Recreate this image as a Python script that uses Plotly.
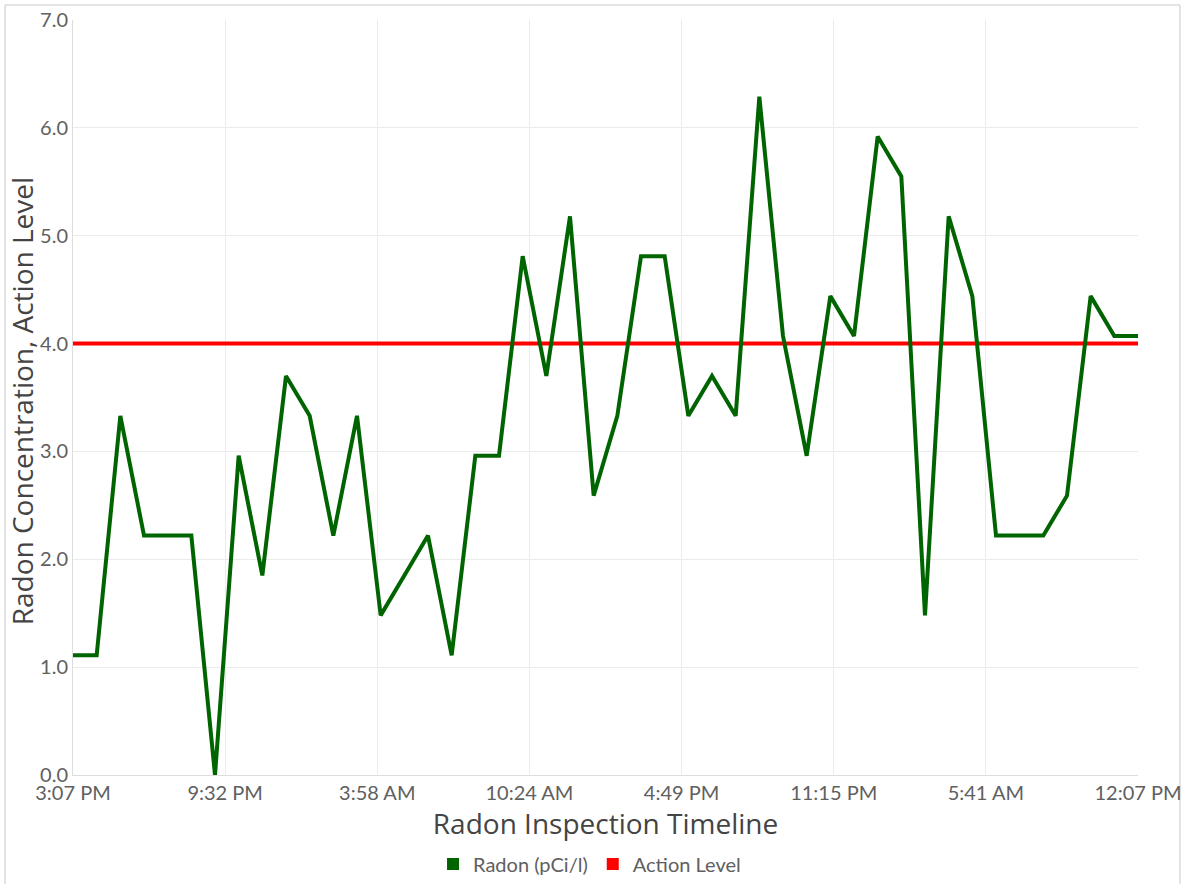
import plotly.graph_objects as go
import pandas as pd

# ---- data ----
start_time = "2023-01-01 15:07"
radon_pci_l = [1.11, 1.11, 3.33, 2.22, 2.22, 2.22, 0.00, 2.96, 1.85, 3.70,
               3.33, 2.22, 3.33, 1.48, 1.85, 2.22, 1.11, 2.96, 2.96, 4.81,
               3.70, 5.18, 2.59, 3.33, 4.81, 4.81, 3.33, 3.70, 3.33, 6.29,
               4.07, 2.96, 4.44, 4.07, 5.92, 5.55, 1.48, 5.18, 4.44, 2.22,
               2.22, 2.22, 2.59, 4.44, 4.07, 4.07]
action_level = 4.0
tick_labels = ["3:07 PM", "9:32 PM", "3:58 AM", "10:24 AM", "4:49 PM",
               "11:15 PM", "5:41 AM", "12:07 PM"]
y_ticks = [0, 1, 2, 3, 4, 5, 6, 7]
x_title = "Radon Inspection Timeline"
y_title = "Radon Concentration, Action Level"

times = pd.date_range(start_time, periods=len(radon_pci_l), freq="h")
t0, t1 = times[0], times[-1]
n = len(tick_labels) - 1
tick_vals = [t0 + (t1 - t0) * k / n for k in range(n + 1)]

FONT = "Lato"
TITLE_FONT = "Open Sans"
GREEN = "#006400"
RED = "#ff0000"
TICK_COLOR = "#606060"

fig = go.Figure()
fig.add_trace(go.Scatter(x=times, y=[action_level] * len(times), mode="lines",
                         line=dict(color=RED, width=4), showlegend=False,
                         hoverinfo="skip"))
fig.add_trace(go.Scatter(x=times, y=radon_pci_l, mode="lines",
                         line=dict(color=GREEN, width=4), showlegend=False))
# legend entries with square swatches
fig.add_trace(go.Scatter(x=[None], y=[None], mode="markers", name="Radon (pCi/l)",
                         marker=dict(symbol="square", size=15, color=GREEN)))
fig.add_trace(go.Scatter(x=[None], y=[None], mode="markers", name="Action Level",
                         marker=dict(symbol="square", size=15, color=RED)))

fig.update_layout(
    width=1182, height=884,
    margin=dict(l=73, r=44, t=20, b=109, autoexpand=False),
    paper_bgcolor="white", plot_bgcolor="white",
    font=dict(family=FONT, color=TICK_COLOR, size=18),
    legend=dict(orientation="h", x=0.485, xanchor="center", y=-0.092, yanchor="top",
                font=dict(family=FONT, size=20, color=TICK_COLOR),
                itemwidth=30, tracegroupgap=0, itemsizing="constant"),
    shapes=[dict(type="rect", xref="paper", yref="paper",
                 x0=-0.0638, x1=1.0394, y0=-0.16, y1=1.0199,
                 line=dict(color="#c8c8c8", width=1), layer="below")],
    annotations=[dict(text=y_title, textangle=-90, xref="paper", yref="paper",
                      x=(22 - 73) / 1065, y=0.495, xanchor="center", yanchor="middle",
                      showarrow=False,
                      font=dict(family=TITLE_FONT, size=28, color="#444444"))],
)
fig.update_xaxes(
    range=[t0, t1], tickvals=tick_vals, ticktext=tick_labels,
    showgrid=True, gridcolor="#ebebeb", gridwidth=1,
    showline=True, linecolor="#dddddd", linewidth=1, zeroline=False,
    tickfont=dict(family=FONT, size=20, color=TICK_COLOR),
    ticklabeloverflow="allow",
    title=dict(text=x_title, standoff=6,
               font=dict(family=TITLE_FONT, size=28, color="#444444")),
    ticks="", ticklen=0,
)
fig.update_yaxes(
    range=[0, 7], tickvals=y_ticks, tickformat=".1f",
    showgrid=True, gridcolor="#ebebeb", gridwidth=1,
    showline=True, linecolor="#dddddd", linewidth=1, zeroline=False,
    tickfont=dict(family=FONT, size=20, color=TICK_COLOR),
    ticklabeloverflow="allow",
    ticks="",
)

fig.write_html("out.html", config={"displayModeBar": False},
               post_script="document.body.style.margin='0';document.body.style.overflow='hidden';")
